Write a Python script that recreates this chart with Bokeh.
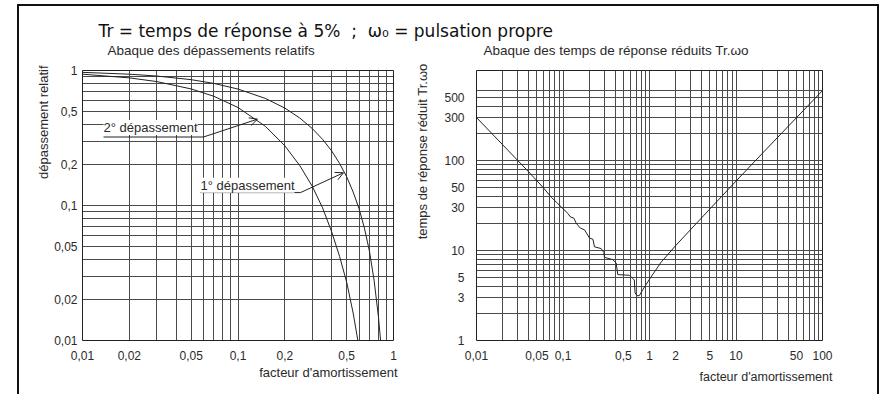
import math
from bokeh.plotting import figure
from bokeh.layouts import column, row
from bokeh.models import (FixedTicker, CustomJSTickFormatter, Label, Arrow, OpenHead, Range1d, Title)
from bokeh.embed import file_html
from bokeh.resources import INLINE

# ---------------- data ----------------
# left chart: relative overshoots vs damping factor
zeta_dep1 = [0.01, 0.02, 0.03, 0.05, 0.07, 0.1, 0.15, 0.2, 0.25, 0.3, 0.35, 0.4,
             0.45, 0.5, 0.55, 0.6, 0.65, 0.7, 0.75, 0.8, 0.826]
dep1 = [0.969, 0.939, 0.910, 0.855, 0.802, 0.729, 0.621, 0.527, 0.444, 0.372, 0.309,
        0.254, 0.205, 0.163, 0.126, 0.095, 0.068, 0.046, 0.028, 0.015, 0.010]
zeta_dep2 = [0.01, 0.02, 0.03, 0.05, 0.07, 0.1, 0.15, 0.2, 0.25, 0.3, 0.35, 0.4,
             0.45, 0.5, 0.55, 0.59]
dep2 = [0.939, 0.882, 0.828, 0.730, 0.644, 0.532, 0.386, 0.277, 0.197, 0.139, 0.096,
        0.064, 0.042, 0.027, 0.016, 0.010]

# right chart: reduced response time Tr.w0 vs damping factor
zeta_tr = [0.01, 0.02, 0.03, 0.04, 0.0588, 0.0732, 0.0836, 0.0998, 0.114, 0.121, 0.134,
           0.142, 0.159, 0.177, 0.202, 0.222, 0.231, 0.276, 0.297, 0.301, 0.377, 0.411,
           0.43, 0.585, 0.64, 0.668, 0.681, 0.718, 0.763, 0.835, 1.0, 1.36, 2.0, 5.0,
           10.0, 20.0, 50.0, 100.0]
tr_w0 = [300, 150, 100, 75, 50.2, 39.1, 34.5, 29.2, 25.8, 23.7, 22.8, 20.1, 17.7, 17.0,
         13.8, 13.3, 11.0, 10.5, 9.5, 8.4, 7.9, 7.3, 5.4, 5.3, 4.9, 4.7, 3.37, 3.15, 3.15,
         3.66, 4.8, 7.4, 11.3, 29, 59, 119, 299, 598]

# tick labels / grid positions
left_x_ticks = [0.01, 0.02, 0.05, 0.1, 0.2, 0.5, 1]
left_y_ticks = [0.01, 0.02, 0.05, 0.1, 0.2, 0.5, 1]
right_x_ticks = [0.01, 0.05, 0.1, 0.5, 1, 2, 5, 10, 50, 100]
right_y_ticks = [1, 3, 5, 10, 30, 50, 100, 300, 500]

def decade_lines(e0, e1, mults=range(1, 10)):
    return [round(m * 10 ** e, 8) for e in range(e0, e1) for m in mults]

left_x_grid = decade_lines(-2, 0) + [1]
left_y_grid = decade_lines(-2, 0) + [1]
right_x_grid = decade_lines(-2, 2) + [100]
right_y_grid = decade_lines(0, 2) + [100, 200, 300, 400, 500, 600, 1000]

NB = "\u00a0"
TITLE = "Tr = temps de réponse à 5%" + NB * 2 + ";" + NB * 2 + "ω₀ = pulsation propre"
SUB_L = "Abaque des dépassements relatifs"
SUB_R = "Abaque des temps de réponse réduits Tr.ωo"
YLAB_L = "dépassement relatif"
YLAB_R = "temps de réponse réduit Tr.ωo"
XLAB = "facteur d'amortissement"

FONT = "Liberation Sans"
GRID_COL = "#4a4a4a"
TXT_COL = "#2a2a2a"
fmt_code = "return tick.toString().replace('.', ',');"


def style_fig(p, xt, yt, xg, yg, xstand, ystand):
    p.xaxis.ticker = FixedTicker(ticks=xt)
    p.yaxis.ticker = FixedTicker(ticks=yt)
    for ax, st in ((p.xaxis, xstand), (p.yaxis, ystand)):
        ax.formatter = CustomJSTickFormatter(code=fmt_code)
        ax.major_tick_line_color = None
        ax.minor_tick_line_color = None
        ax.major_tick_in = 0
        ax.major_tick_out = 0
        ax.minor_tick_in = 0
        ax.minor_tick_out = 0
        ax.axis_line_color = None
        ax.major_label_text_font = FONT
        ax.major_label_text_font_size = "12px"
        ax.major_label_text_color = TXT_COL
        ax.major_label_standoff = st
    p.xgrid.ticker = FixedTicker(ticks=xg)
    p.ygrid.ticker = FixedTicker(ticks=yg)
    for g in (p.xgrid, p.ygrid):
        g.grid_line_color = GRID_COL
        g.grid_line_alpha = 1.0
        g.grid_line_width = 1
    p.outline_line_color = "#222222"
    p.outline_line_alpha = 1.0
    p.outline_line_width = 1
    p.background_fill_color = "white"
    p.border_fill_color = "white"


def side_title(p, s, side, align, offset, standoff, size="13px"):
    t = Title(text=s, align=align, offset=offset, standoff=standoff,
              text_font=FONT, text_font_size=size, text_font_style="normal",
              text_color=TXT_COL)
    p.add_layout(t, side)


def txt(p, x, y, s, size="13px", align="left", baseline="middle", bg=None, font=FONT,
        color=TXT_COL):
    lab = Label(x=x, y=y, text=s, text_font=font, text_font_size=size,
                text_color=color, text_align=align, text_baseline=baseline)
    if bg:
        lab.background_fill_color = bg
        lab.background_fill_alpha = 1.0
    p.add_layout(lab)


# ---------------- left figure ----------------
left = figure(width=381, height=334, x_axis_type="log", y_axis_type="log",
              x_range=Range1d(0.01, 1), y_range=Range1d(0.01, 1),
              output_backend="svg", toolbar_location=None, title=None,
              min_border_left=63, min_border_right=7, min_border_top=8, min_border_bottom=54)
style_fig(left, left_x_ticks, left_y_ticks, left_x_grid, left_y_grid, 10, 5)

# pixel (relative to frame top-left) -> data, for annotation placement
def lpx(px, py):
    return 10 ** (px / 155.5 - 2), 10 ** (-py / 136.0)

left.line(zeta_dep1, dep1, line_color="#222222", line_width=1)
left.line(zeta_dep2, dep2, line_color="#222222", line_width=1)

side_title(left, YLAB_L, "left", "right", -5, 2)
side_title(left, XLAB, "below", "right", -4, 0)

# annotation "2° dépassement"
x0, yu = lpx(21, 67)
x1, _ = lpx(121, 67)
xt2, yt2 = lpx(175, 49)
x, y = lpx(21, 57.5); txt(left, x, y, "2° dépassement", bg="white")
left.line([x0, x1], [yu, yu], line_color="#222222", line_width=1)
left.add_layout(Arrow(end=OpenHead(size=8, line_width=1, line_color="#222222"),
                      x_start=x1, y_start=yu, x_end=xt2, y_end=yt2,
                      line_width=1, line_color="#222222"))
# annotation "1° dépassement"
x0, yu = lpx(118, 123)
x1, _ = lpx(218, 123)
xt1, yt1 = lpx(261, 103)
x, y = lpx(118, 115.5); txt(left, x, y, "1° dépassement", bg="white")
left.line([x0, x1], [yu, yu], line_color="#222222", line_width=1)
left.add_layout(Arrow(end=OpenHead(size=8, line_width=1, line_color="#222222"),
                      x_start=x1, y_start=yu, x_end=xt1, y_end=yt1,
                      line_width=1, line_color="#222222"))

# ---------------- right figure ----------------
right = figure(width=477, height=334, x_axis_type="log", y_axis_type="log",
               x_range=Range1d(0.01, 100), y_range=Range1d(1, 1000),
               output_backend="svg", toolbar_location=None, title=None,
               min_border_left=75, min_border_right=55, min_border_top=10, min_border_bottom=47)
style_fig(right, right_x_ticks, right_y_ticks, right_x_grid, right_y_grid, 10, 12)

right.line(zeta_tr, tr_w0, line_color="#222222", line_width=1)

side_title(right, YLAB_R, "left", "right", -7, 24)
side_title(right, XLAB, "below", "right", -10, 10, size="12.5px")

# ---------------- top strip: main title + sub-titles ----------------
TOP_W, TOP_H = 858, 54
top = figure(width=TOP_W, height=TOP_H, x_range=Range1d(0, 1), y_range=Range1d(0, 1),
             x_axis_type=None, y_axis_type=None,
             output_backend="svg", toolbar_location=None, title=None,
             min_border_left=0, min_border_right=0, min_border_top=0, min_border_bottom=0)
top.grid.visible = False
top.outline_line_color = None
txt(top, 79 / TOP_W, 1 - 24 / TOP_H, TITLE, size="17px", font="DejaVu Sans", color="#111111")
txt(top, 88 / TOP_W, 1 - 44 / TOP_H, SUB_L, size="13.5px")
txt(top, 464 / TOP_W, 1 - 44 / TOP_H, SUB_R, size="13.5px")

root = column(top, row(left, right), margin=(4, 0, 0, 17),
              styles={"border-top": "2px solid #111", "border-left": "2px solid #111",
                      "border-right": "2px solid #111", "background-color": "white"})

open("out.html", "w").write(file_html(root, INLINE))
